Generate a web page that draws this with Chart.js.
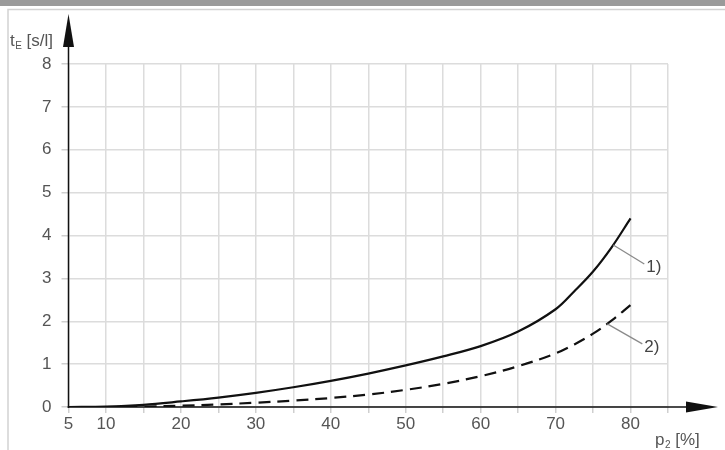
<!DOCTYPE html>
<html>
<head>
<meta charset="utf-8">
<script src="https://cdn.jsdelivr.net/npm/chart.js@4/dist/chart.umd.min.js"></script>
<style>
  html, body { margin: 0; padding: 0; background: #fff; }
  #wrap { position: relative; width: 725px; height: 450px; }
</style>
</head>
<body>
<div id="wrap"><canvas id="c" width="725" height="450"></canvas></div>
<script>
// ---- data ----
const pValues = [5, 10, 15, 20, 25, 30, 35, 40, 45, 50, 55, 60, 65, 70, 72.5, 75, 77.5, 80];
const curve1 = [0, 0.01, 0.05, 0.13, 0.22, 0.33, 0.46, 0.61, 0.78, 0.97, 1.18, 1.42, 1.76, 2.28, 2.70, 3.16, 3.73, 4.40];
const curve2 = [0, 0, 0.01, 0.03, 0.06, 0.10, 0.15, 0.21, 0.29, 0.40, 0.54, 0.72, 0.95, 1.25, 1.46, 1.71, 2.02, 2.38];
const xTickLabels = [5, 10, 20, 30, 40, 50, 60, 70, 80];
const yTickValues = [0, 1, 2, 3, 4, 5, 6, 7, 8];
const curveLabels = ['1)', '2)'];
const labelAnchors = [{ x: 77.7, y: 3.78 }, { x: 76.9, y: 1.94 }];
const yTitle = { main: 't', sub: 'E', rest: ' [s/l]' };
const xTitle = { main: 'p', sub: '2', rest: ' [%]' };

const FONT = '"Liberation Sans", Arial, sans-serif';
const TEXT = '#555';

const toPts = (arr) => pValues.map((x, i) => ({ x, y: arr[i] }));

const decor = {
  id: 'decor',
  beforeDraw(chart) {
    const ctx = chart.ctx;
    ctx.save();
    ctx.fillStyle = '#fff';
    ctx.fillRect(0, 0, 725, 450);
    ctx.fillStyle = '#9a9a9a';
    ctx.fillRect(0, 0, 725, 6);
    ctx.strokeStyle = '#d2d2d2';
    ctx.lineWidth = 1.5;
    ctx.beginPath();
    ctx.moveTo(8, 450); ctx.lineTo(8, 9.5); ctx.lineTo(725, 9.5);
    ctx.stroke();
    ctx.restore();
  },
  afterDraw(chart) {
    const ctx = chart.ctx;
    const xs = chart.scales.x, ys = chart.scales.y;
    const x0 = xs.getPixelForValue(5);
    const y0 = ys.getPixelForValue(0);
    ctx.save();
    ctx.strokeStyle = '#111';
    ctx.fillStyle = '#111';
    ctx.lineWidth = 1.5;
    ctx.beginPath();
    ctx.moveTo(x0, y0 + 1); ctx.lineTo(x0, 40);
    ctx.moveTo(x0 - 1, y0); ctx.lineTo(700, y0);
    ctx.stroke();
    ctx.beginPath();
    ctx.moveTo(x0, 14); ctx.lineTo(x0 - 5.5, 47); ctx.lineTo(x0 + 5.5, 47); ctx.closePath();
    ctx.fill();
    ctx.beginPath();
    ctx.moveTo(718, y0); ctx.lineTo(686, y0 - 5.5); ctx.lineTo(686, y0 + 5.5); ctx.closePath();
    ctx.fill();

    const drawTitle = (t, x, baseline) => {
      ctx.fillStyle = TEXT;
      ctx.textAlign = 'left';
      ctx.textBaseline = 'alphabetic';
      ctx.font = '17px ' + FONT;
      ctx.fillText(t.main, x, baseline);
      let w = ctx.measureText(t.main).width;
      ctx.font = '10px ' + FONT;
      ctx.fillText(t.sub, x + w + 0.5, baseline + 3);
      w += ctx.measureText(t.sub).width + 0.5;
      ctx.font = '17px ' + FONT;
      ctx.fillText(t.rest, x + w, baseline);
    };
    drawTitle(yTitle, 10, 46);
    drawTitle(xTitle, 655, 445);

    const offs = [{ dx: 31, dy: 19 }, { dx: 35, dy: 20 }];
    labelAnchors.forEach((a, i) => {
      const px = xs.getPixelForValue(a.x), py = ys.getPixelForValue(a.y);
      ctx.strokeStyle = '#8a8a8a';
      ctx.lineWidth = 1.3;
      ctx.beginPath();
      ctx.moveTo(px, py);
      ctx.lineTo(px + offs[i].dx, py + offs[i].dy);
      ctx.stroke();
      ctx.fillStyle = '#444';
      ctx.font = '17px ' + FONT;
      ctx.textAlign = 'left';
      ctx.textBaseline = 'middle';
      ctx.fillText(curveLabels[i], px + offs[i].dx + 2, py + offs[i].dy + 3);
    });
    ctx.restore();
  }
};

new Chart(document.getElementById('c'), {
  type: 'line',
  data: {
    datasets: [
      { label: '1)', data: toPts(curve1), borderColor: '#111', borderWidth: 2.2,
        pointRadius: 0, tension: 0.35, fill: false },
      { label: '2)', data: toPts(curve2), borderColor: '#111', borderWidth: 2.2,
        borderDash: [12, 7], pointRadius: 0, tension: 0.35, fill: false }
    ]
  },
  options: {
    responsive: false,
    animation: false,
    devicePixelRatio: 1,
    layout: { padding: { top: 64, right: 57, left: 0, bottom: 0 } },
    plugins: { legend: { display: false }, tooltip: { enabled: false } },
    scales: {
      x: {
        type: 'linear', min: 5, max: 85,
        afterFit(s) { s.height = 43; },
        afterBuildTicks(s) { s.ticks = []; for (let v = 5; v <= 85; v += 5) s.ticks.push({ value: v }); },
        border: { display: false },
        grid: { color: '#dcdcdc', lineWidth: 1.5, tickLength: 6, tickColor: '#cfcfcf' },
        ticks: {
          autoSkip: false, maxRotation: 0, padding: 1,
          color: TEXT, font: { family: FONT, size: 17 },
          callback: (v) => xTickLabels.includes(v) ? String(v) : ''
        }
      },
      y: {
        type: 'linear', min: 0, max: 8,
        afterFit(s) { s.width = 68.5; },
        afterBuildTicks(s) { s.ticks = yTickValues.map(v => ({ value: v })); },
        border: { display: false },
        grid: { color: '#dcdcdc', lineWidth: 1.5, tickLength: 7, tickColor: '#cfcfcf' },
        ticks: { padding: 10, color: TEXT, font: { family: FONT, size: 17 } }
      }
    }
  },
  plugins: [decor]
});
</script>
</body>
</html>
